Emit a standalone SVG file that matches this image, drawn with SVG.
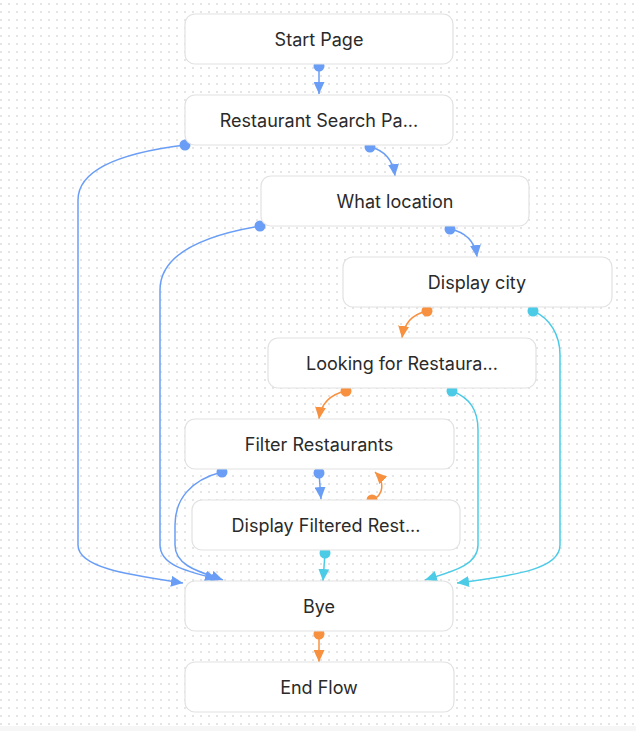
<svg xmlns="http://www.w3.org/2000/svg" width="636" height="731" viewBox="0 0 636 731">
<defs>
<pattern id="grid" x="0" y="0" width="8" height="8" patternUnits="userSpaceOnUse">
<rect x="0.2" y="3.2" width="1.6" height="1.6" fill="#d6d6d6"/>
</pattern>
<marker id="ab" viewBox="0 0 12 11" refX="12" refY="5.5" markerWidth="12" markerHeight="11" markerUnits="userSpaceOnUse" orient="auto"><path d="M0,0 L12,5.5 L0,11 z" fill="#6a9ef6"/></marker>
<marker id="ao" viewBox="0 0 12 11" refX="12" refY="5.5" markerWidth="12" markerHeight="11" markerUnits="userSpaceOnUse" orient="auto"><path d="M0,0 L12,5.5 L0,11 z" fill="#f8913f"/></marker>
<marker id="ac" viewBox="0 0 12 11" refX="12" refY="5.5" markerWidth="12" markerHeight="11" markerUnits="userSpaceOnUse" orient="auto"><path d="M0,0 L12,5.5 L0,11 z" fill="#4ccbe6"/></marker>
</defs>
<style>
.node rect{fill:#ffffff;stroke:#e2e2e2;stroke-width:1.2}
.node text{font-family:Inter,"Liberation Sans",sans-serif;font-size:18px;font-weight:400;fill:#2a2a2a;text-anchor:middle}
.e{fill:none;stroke-width:1.5}
.b{stroke:#6a9ef6;marker-end:url(#ab)}
.o{stroke:#f8913f;marker-end:url(#ao)}
.c{stroke:#4ccbe6;marker-end:url(#ac)}
.db{fill:#6a9ef6}
.do{fill:#f8913f}
.dc{fill:#4ccbe6}
</style>
<rect width="636" height="731" fill="#ffffff"/>
<rect width="636" height="726" fill="url(#grid)"/>
<rect y="726" width="636" height="5" fill="#f6f6f6"/>

<g id="connectors">
<path class="e b" d="M319,66 L319,94"/>
<path class="e b" d="M370,147 Q392,152 395,176"/>
<path class="e b" d="M450,229 Q474,234 477,257"/>
<path class="e o" d="M427,311 Q405,316 402,338"/>
<path class="e o" d="M346,391 Q322,396 319,419"/>
<path class="e b" d="M319,473 L321,499"/>
<path class="e o" d="M372,500 C384,495 385,482 375,472"/>
<path class="e c" d="M325,553 L323,581"/>
<path class="e o" d="M319,634 L319,662"/>
<path class="e b" d="M185,145 C120,153 78,170 78,200 L78,545 C78,568 130,575 183,583"/>
<path class="e b" d="M260,226 C200,236 160,255 160,290 L160,545 C160,566 190,572 217,579"/>
<path class="e b" d="M222,472 C190,480 175,500 175,525 L175,545 C175,566 200,572 223,580"/>
<path class="e c" d="M452,391 C470,398 478,410 478,430 L478,545 C478,566 450,572 425,580"/>
<path class="e c" d="M533,311 C550,318 560,335 560,355 L560,545 C560,568 520,575 457,583"/>
<circle class="db" cx="319" cy="66" r="5.5"/>
<circle class="db" cx="370" cy="147" r="5.5"/>
<circle class="db" cx="450" cy="229" r="5.5"/>
<circle class="do" cx="427" cy="311" r="5.5"/>
<circle class="do" cx="346" cy="391" r="5.5"/>
<circle class="db" cx="319" cy="473" r="5.5"/>
<circle class="do" cx="372" cy="500" r="5.5"/>
<circle class="dc" cx="325" cy="553" r="5.5"/>
<circle class="do" cx="319" cy="634" r="5.5"/>
<circle class="db" cx="185" cy="145" r="5.5"/>
<circle class="db" cx="260" cy="226" r="5.5"/>
<circle class="db" cx="222" cy="472" r="5.5"/>
<circle class="dc" cx="452" cy="391" r="5.5"/>
<circle class="dc" cx="533" cy="311" r="5.5"/>
</g>

<g id="n-start" class="node"><rect x="185" y="14" width="268" height="50" rx="10"/><text x="319" y="45.5">Start Page</text></g>
<g id="n-search" class="node"><rect x="185" y="95" width="268" height="50" rx="10"/><text x="319" y="126.5">Restaurant Search Pa...</text></g>
<g id="n-location" class="node"><rect x="261" y="176" width="268" height="50" rx="10"/><text x="395" y="207.5">What location</text></g>
<g id="n-city" class="node"><rect x="343" y="257" width="269" height="50" rx="10"/><text x="477" y="288.5">Display city</text></g>
<g id="n-looking" class="node"><rect x="268" y="338" width="268" height="50" rx="10"/><text x="402" y="369.5">Looking for Restaura...</text></g>
<g id="n-filter" class="node"><rect x="185" y="419" width="269" height="50" rx="10"/><text x="319" y="450.5">Filter Restaurants</text></g>
<g id="n-display" class="node"><rect x="192" y="500" width="268" height="50" rx="10"/><text x="326" y="531.5">Display Filtered Rest...</text></g>
<g id="n-bye" class="node"><rect x="185" y="581" width="268" height="50" rx="10"/><text x="319" y="612.5">Bye</text></g>
<g id="n-end" class="node"><rect x="185" y="662" width="269" height="50" rx="10"/><text x="319" y="693.5">End Flow</text></g>
</svg>
